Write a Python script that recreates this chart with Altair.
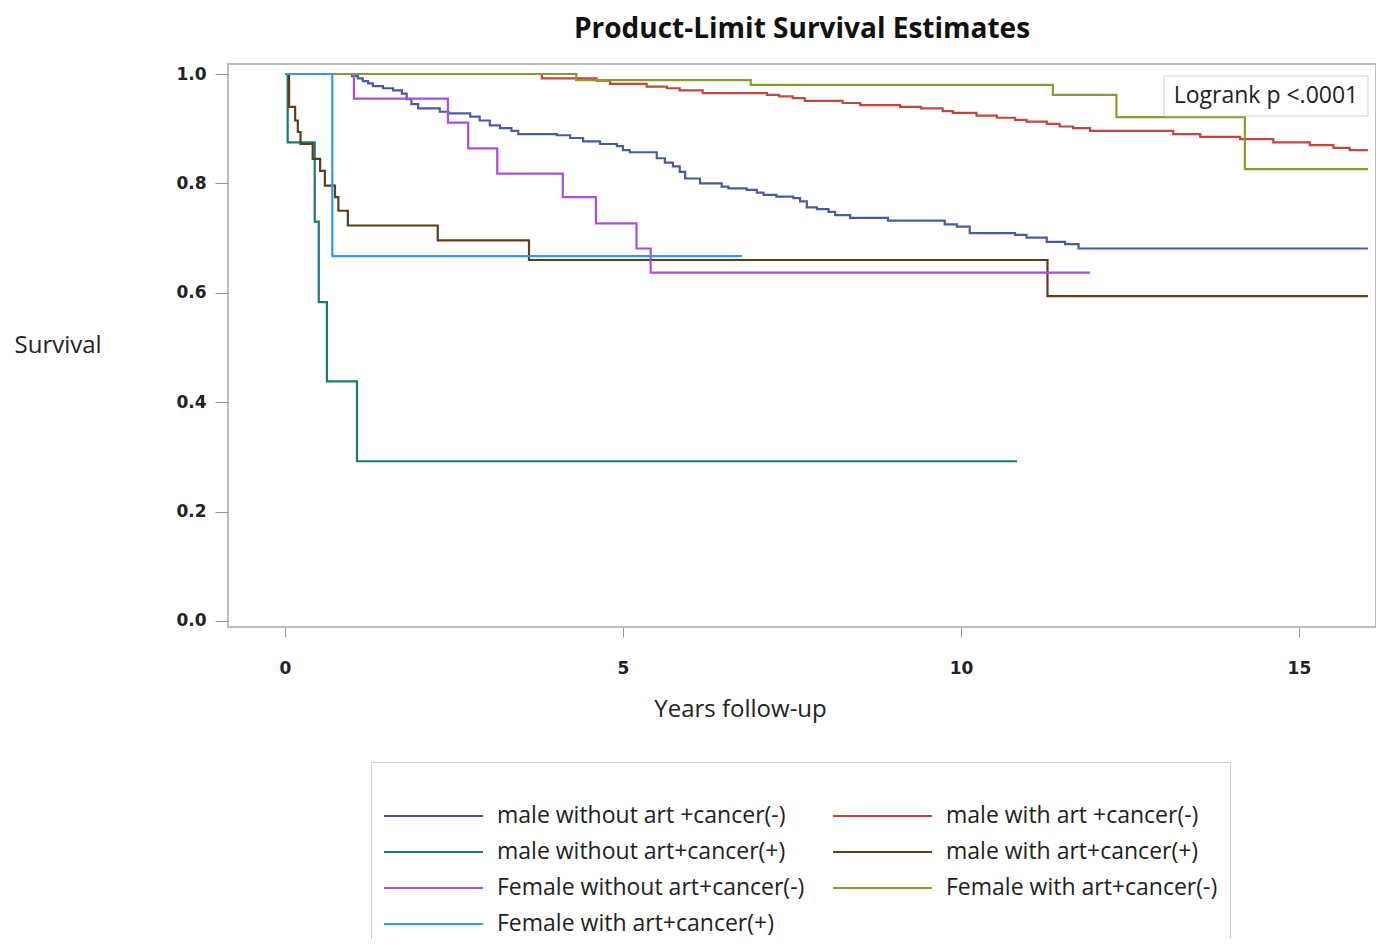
import altair as alt
import pandas as pd

# ---- data ----
groups = [
    "male without art +cancer(-)",
    "male with art +cancer(-)",
    "male without art+cancer(+)",
    "male with art+cancer(+)",
    "Female without art+cancer(-)",
    "Female with art+cancer(-)",
    "Female with art+cancer(+)",
]
colors = ["#4A5C9C", "#C4473F", "#1F7A6E", "#5E3D1A", "#A94FE0", "#8A9A2C", "#3199F5"]

t_male_wo_neg = [0, 0.99, 1.08, 1.15, 1.23, 1.30, 1.45, 1.60, 1.73, 1.80, 1.87, 1.97, 2.29, 2.42,
                 2.74, 2.88, 3.03, 3.18, 3.35, 3.45, 4.02, 4.22, 4.41, 4.66, 4.91, 5.00, 5.10,
                 5.50, 5.62, 5.74, 5.84, 5.92, 6.14, 6.46, 6.56, 6.83, 6.98, 7.08, 7.27, 7.52,
                 7.62, 7.72, 7.87, 8.04, 8.14, 8.36, 8.92, 9.76, 9.94, 10.13, 10.80, 10.97,
                 11.27, 11.54, 11.74, 16.02]
s_male_wo_neg = [1.0, 0.996, 0.992, 0.987, 0.983, 0.978, 0.974, 0.970, 0.964, 0.954, 0.945, 0.937,
                 0.931, 0.928, 0.922, 0.915, 0.906, 0.901, 0.896, 0.890, 0.888, 0.883, 0.877,
                 0.872, 0.868, 0.861, 0.857, 0.846, 0.838, 0.831, 0.821, 0.809, 0.800, 0.794,
                 0.791, 0.788, 0.783, 0.779, 0.776, 0.773, 0.767, 0.756, 0.753, 0.748, 0.742,
                 0.737, 0.732, 0.725, 0.721, 0.709, 0.706, 0.701, 0.693, 0.689, 0.681, 0.681]

t_male_w_neg = [0, 3.80, 4.61, 4.81, 5.35, 5.65, 5.84, 6.18, 7.13, 7.31, 7.51, 7.69, 8.25, 8.51,
                9.10, 9.41, 9.73, 9.88, 10.23, 10.53, 10.80, 10.97, 11.27, 11.46, 11.66, 11.91,
                13.14, 13.54, 14.13, 14.62, 15.16, 15.51, 15.75, 16.02]
s_male_w_neg = [1.0, 0.992, 0.988, 0.982, 0.977, 0.974, 0.970, 0.965, 0.962, 0.959, 0.956, 0.951,
                0.947, 0.943, 0.940, 0.937, 0.932, 0.929, 0.924, 0.920, 0.916, 0.913, 0.909,
                0.904, 0.901, 0.896, 0.890, 0.885, 0.881, 0.875, 0.870, 0.865, 0.861, 0.861]

t_male_wo_pos = [0, 0.04, 0.44, 0.50, 0.62, 1.065, 10.83]
s_male_wo_pos = [1.0, 0.875, 0.730, 0.583, 0.438, 0.292, 0.292]

t_male_w_pos = [0, 0.06, 0.15, 0.19, 0.23, 0.41, 0.52, 0.59, 0.74, 0.79, 0.93, 2.26, 3.61, 11.28, 16.02]
s_male_w_pos = [1.0, 0.940, 0.915, 0.894, 0.872, 0.845, 0.823, 0.796, 0.775, 0.750, 0.723,
                0.696, 0.660, 0.594, 0.594]

t_fem_wo_neg = [0, 1.02, 2.41, 2.71, 3.14, 4.11, 4.60, 5.20, 5.41, 11.91]
s_fem_wo_neg = [1.0, 0.955, 0.911, 0.864, 0.818, 0.775, 0.727, 0.681, 0.637, 0.637]

t_fem_w_neg = [0, 4.31, 6.89, 11.36, 12.30, 14.20, 16.02]
s_fem_w_neg = [1.0, 0.989, 0.980, 0.962, 0.921, 0.826, 0.826]

t_fem_w_pos = [0, 0.70, 6.76]
s_fem_w_pos = [1.0, 0.667, 0.667]

title_text = "Product-Limit Survival Estimates"
x_title = "Years follow-up"
y_title = "Survival"
x_ticks = [0, 5, 10, 15]
y_ticks = [0.0, 0.2, 0.4, 0.6, 0.8, 1.0]
logrank_text = ["Logrank p <.0001"]

series = [
    (t_male_wo_neg, s_male_wo_neg),
    (t_male_w_neg, s_male_w_neg),
    (t_male_wo_pos, s_male_wo_pos),
    (t_male_w_pos, s_male_w_pos),
    (t_fem_wo_neg, s_fem_wo_neg),
    (t_fem_w_neg, s_fem_w_neg),
    (t_fem_w_pos, s_fem_w_pos),
]
rows = []
for g, (ts, ss) in zip(groups, series):
    for t, s in zip(ts, ss):
        rows.append({"group": g, "t": t, "s": s})
df = pd.DataFrame(rows)

FONT = "Open Sans"
TICKFONT = "DejaVu Sans"
W, H = 1148, 563

lines = alt.Chart(df).mark_line(interpolate="step-after", strokeWidth=2.2).encode(
    x=alt.X("t:Q",
            scale=alt.Scale(domain=[-0.843, 16.14], nice=False, zero=False),
            axis=alt.Axis(values=x_ticks, format="d", title=x_title, grid=False, domain=False,
                          tickSize=10, tickColor="#999", labelFont=TICKFONT, labelFontSize=17,
                          labelFontWeight="bold", labelColor="#222", labelPadding=23,
                          titleFont=FONT, titleFontSize=24, titleFontWeight="normal",
                          titleColor="#222", titleX=512, titleY=70)),
    y=alt.Y("s:Q",
            scale=alt.Scale(domain=[-0.011, 1.0183], nice=False, zero=False),
            axis=alt.Axis(values=y_ticks, format=".1f", title=y_title, grid=False, domain=False,
                          tickSize=13, tickColor="#999", labelFont=TICKFONT, labelFontSize=17,
                          labelFontWeight="bold", labelColor="#222", labelPadding=9,
                          titleFont=FONT, titleFontSize=24, titleFontWeight="normal",
                          titleColor="#222", titleAngle=0, titleAlign="left",
                          titleBaseline="middle", titleX=-214, titleY=281)),
    color=alt.Color("group:N",
                    scale=alt.Scale(domain=groups, range=colors),
                    sort=groups,
                    legend=alt.Legend(title=" ", orient="none", legendX=143, legendY=698,
                                      direction="horizontal",
                                      columns=2, symbolType="stroke", symbolSize=9801,
                                      symbolStrokeWidth=2, clipHeight=26,
                                      labelFont=FONT, labelFontSize=23, labelColor="#222",
                                      labelOffset=13, labelLimit=0, padding=12,
                                      strokeColor="#d0d0d0", fillColor="white",
                                      rowPadding=10, columnPadding=27,
                                      titleFontSize=20, titlePadding=9)),
)

box = alt.Chart(pd.DataFrame({"label": logrank_text})).mark_rect(
    fill="white", stroke="#cfcfcf", strokeWidth=1
).encode(x=alt.value(936), x2=alt.value(1140), y=alt.value(12), y2=alt.value(52))

box_text = alt.Chart(pd.DataFrame({"label": logrank_text})).mark_text(
    font=FONT, fontSize=23, color="#222", align="center", baseline="middle"
).encode(x=alt.value(1038), y=alt.value(32), text="label:N")

chart = alt.layer(lines, box, box_text).properties(
    width=W, height=H,
    title=alt.TitleParams(title_text, font=FONT, fontSize=28, fontWeight="bold",
                          color="#111", anchor="middle", offset=20),
    autosize=alt.AutoSizeParams(type="none"),
    padding={"left": 220, "top": 56, "right": 0, "bottom": 312},
).configure_view(stroke="#a8a8a8", strokeWidth=1.5)

chart.save("out.html", embed_options={"renderer": "svg", "actions": False})
